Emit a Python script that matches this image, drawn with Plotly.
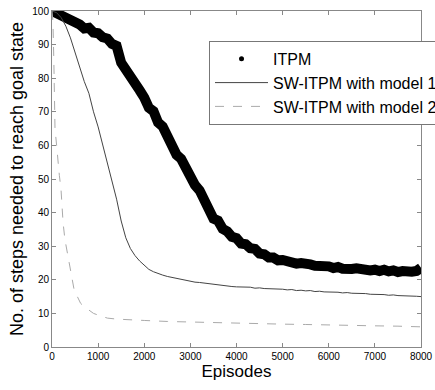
import plotly.graph_objects as go

# Episodes grid for ITPM and SW-ITPM model 1 (every 100 episodes)
episodes = list(range(0, 8001, 100))

itpm = [100, 99.4, 99.0, 97.8, 97.6, 96.4, 96.0, 94.8, 95.0, 93.6,
        93.4, 92.2, 91.8, 90.2, 89.6, 84.6, 82.8, 81.0, 78.4, 76.4,
        74.2, 71.2, 70.2, 66.8, 65.6, 62.2, 60.4, 57.2, 56.0, 53.0,
        51.6, 48.2, 46.6, 43.2, 41.6, 38.2, 37.6, 35.2, 34.4, 32.8,
        32.4, 30.8, 30.6, 29.4, 29.2, 27.8, 27.6, 26.6, 26.6, 25.8,
        25.9, 25.3, 25.4, 24.8, 25.0, 24.4, 24.6, 24.2, 24.3, 23.8,
        24.0, 23.5, 23.8, 23.3, 23.6, 23.2, 23.4, 23.0, 23.2, 22.8,
        23.0, 22.6, 23.0, 22.5, 22.8, 22.3, 22.6, 22.2, 22.4, 22.6,
        23.6]

sw_model1 = [100, 99.5, 98.0, 95.5, 92.0, 87.5, 83.0, 79.0, 75.5, 70.0,
             65.5, 60.0, 54.5, 49.5, 44.0, 37.5, 32.5, 29.3, 27.2, 25.6,
             24.2, 23.1, 22.4, 21.8, 21.4, 21.0, 20.7, 20.4, 20.2, 19.8,
             19.7, 19.3, 19.2, 19.0, 18.9, 18.6, 18.6, 18.3, 18.2, 18.0,
             17.9, 17.9, 17.7, 17.8, 17.5, 17.6, 17.4, 17.4, 17.2, 17.3,
             17.2, 17.0, 17.1, 16.8, 16.9, 16.7, 16.8, 16.5, 16.6, 16.4,
             16.4, 16.3, 16.3, 16.1, 16.2, 16.0, 16.0, 15.9, 15.9, 15.7,
             15.7, 15.6, 15.6, 15.4, 15.5, 15.3, 15.3, 15.2, 15.2, 15.1,
             15.0]

episodes_m2 = [0, 20, 40, 65, 100, 130, 160, 195, 240, 280, 330, 380, 430,
               480, 550, 620, 700, 800, 900, 1000, 1100, 1200, 1400, 1600,
               1800, 2000, 2500, 3000, 3500, 4000, 4500, 5000, 5500, 6000,
               6500, 7000, 7500, 8000]
sw_model2 = [100, 97, 85, 65, 60, 55, 51, 47, 37, 32, 28, 24, 20,
             17, 15, 13, 12, 11, 10, 9.5, 9.0, 8.6, 8.3, 8.1,
             8.0, 7.9, 7.6, 7.4, 7.2, 7.0, 6.9, 6.8, 6.7, 6.5,
             6.4, 6.3, 6.2, 6.0]

x_ticks = list(range(0, 8001, 1000))
y_ticks = list(range(0, 101, 10))

font_family = "Liberation Sans, Arial, sans-serif"

fig = go.Figure()
# ITPM thick noisy band
fig.add_trace(go.Scatter(
    x=episodes, y=itpm, mode="lines", name="ITPM", showlegend=False,
    line=dict(color="black", width=10),
))
# legend entry for ITPM (dot marker)
fig.add_trace(go.Scatter(
    x=[None], y=[None], mode="markers", name="ITPM",
    marker=dict(color="black", size=5),
))
fig.add_trace(go.Scatter(
    x=episodes, y=sw_model1, mode="lines", name="SW-ITPM with model 1",
    line=dict(color="#444444", width=1),
))
fig.add_trace(go.Scatter(
    x=episodes_m2, y=sw_model2, mode="lines", name="SW-ITPM with model 2",
    line=dict(color="#aaaaaa", width=1, dash="dash"),
))

axis_common = dict(
    showgrid=False, zeroline=False, showline=True, mirror="ticks",
    linecolor="#888888", linewidth=1, ticks="inside", ticklen=4,
    tickcolor="#888888", automargin=False,
    tickfont=dict(size=10, color="black", family=font_family),
)

fig.update_layout(
    width=435, height=390,
    margin=dict(l=52, r=14, t=11, b=43, autoexpand=False),
    paper_bgcolor="white", plot_bgcolor="white",
    font=dict(family=font_family, color="black"),
    showlegend=True,
    legend=dict(
        x=0.4255, y=0.911, xanchor="left", yanchor="top",
        bgcolor="white", bordercolor="#777777", borderwidth=1,
        font=dict(size=16, family=font_family, color="black"),
        itemsizing="trace", itemwidth=53, tracegroupgap=0,
    ),
    xaxis=dict(
        range=[0, 8000], tickvals=x_ticks,
        title=dict(text="Episodes", font=dict(size=17), standoff=2),
        **axis_common,
    ),
    yaxis=dict(
        range=[0, 100], tickvals=y_ticks,
        title=dict(text="No. of steps needed to reach goal state", font=dict(size=18), standoff=4),
        **axis_common,
    ),
)

fig.write_html("out.html")
